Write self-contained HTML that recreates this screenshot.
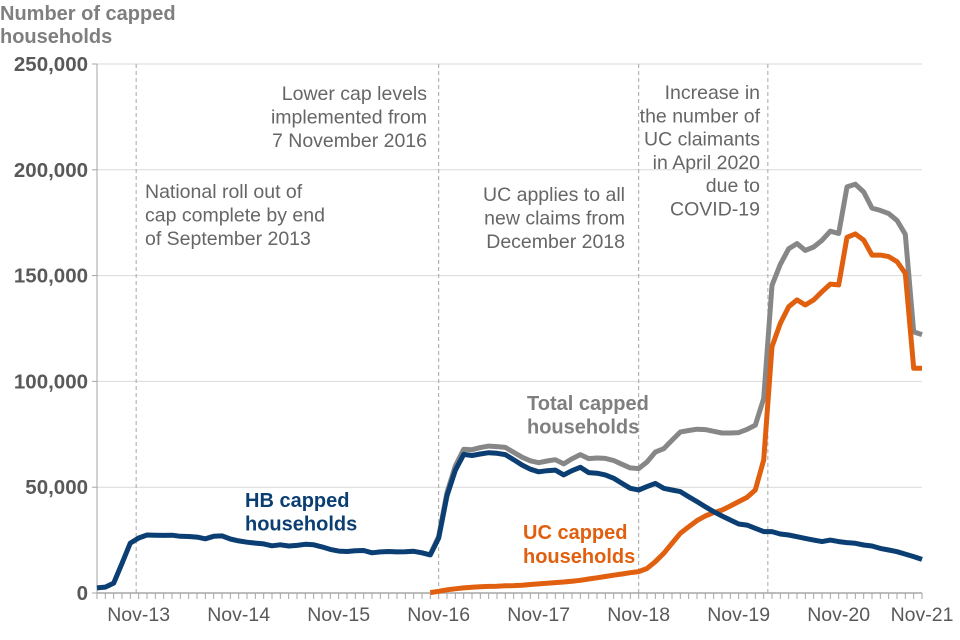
<!DOCTYPE html>
<html><head><meta charset="utf-8">
<style>
html,body{margin:0;padding:0;background:#fff;}
svg{display:block;font-family:"Liberation Sans",Arial,sans-serif;}
</style></head>
<body>
<svg id="chart" width="960" height="640" viewBox="0 0 960 640"></svg>
<script>
const hbValues = [2.4,2.8,4.7,14,23.6,26,27.4,27.3,27.2,27.3,26.8,26.7,26.4,25.6,26.8,27,25.5,24.6,24,23.6,23.2,22.3,22.8,22.2,22.5,23,22.8,21.8,20.6,19.8,19.6,20,20.1,19,19.4,19.6,19.4,19.5,19.7,19,18,
26,46,58,65.5,65,65.7,66.3,66,65.4,63,60.5,58.5,57.3,57.8,58.1,55.8,57.8,59.4,56.9,56.6,55.8,54.2,51.8,49.5,48.7,50.3,51.8,49.5,48.7,47.9,45.5,43.2,40.8,38.4,36.4,34.5,32.6,32.1,30.6,29,29,27.9,27.4,26.6,25.8,25,24.3,25,24.3,23.8,23.5,22.7,22.2,21.1,20.3,19.5,18.4,17.2,15.9];
const ucValues = [null,null,null,null,null,null,null,null,null,null,null,null,null,null,null,null,null,null,null,null,null,null,null,null,null,null,null,null,null,null,null,null,null,null,null,null,null,null,null,null,0.2,
0.8,1.5,2,2.4,2.7,3,3.1,3.2,3.4,3.5,3.7,4,4.3,4.6,4.9,5.2,5.6,6,6.6,7.2,7.8,8.4,9,9.6,10.1,11.6,14.8,18.7,23.5,28.2,31.3,34.2,36.4,38,39.2,41.1,43.2,45.2,48.7,62.9,116.4,127.4,135.3,138.5,136.1,138.5,142.4,146,145.6,168.1,169.7,166.8,159.7,159.7,159,156.6,151.1,106.2,106.2];
const yTicks = [0,50000,100000,150000,200000,250000];
const yTickLabels = ["0","50,000","100,000","150,000","200,000","250,000"];
const xLabels = ["Nov-13","Nov-14","Nov-15","Nov-16","Nov-17","Nov-18","Nov-19","Nov-20","Nov-21"];
const xLabelIdx = [5,17,29,41,53,65,77,89,99];
const eventIdx = [4.7,41,65,80.5];

const NS="http://www.w3.org/2000/svg";
const svg=document.getElementById('chart');
const X0=97,X1=922,Y0=593,Y1=64;
const N=hbValues.length;
function xs(i){return X0+i*(X1-X0)/(N-1);}
function ys(v){return Y0-v/250000*(Y0-Y1);}
function mk(tag,attrs,parent){const e=document.createElementNS(NS,tag);for(const k in attrs)e.setAttribute(k,attrs[k]);(parent||svg).appendChild(e);return e;}
function txt(s,x,y,attrs){const e=mk('text',Object.assign({x:x,y:y},attrs));e.textContent=s;return e;}

yTicks.forEach((t,i)=>{
  if(t>0){const g=mk('line',{x1:X0,x2:X1,y1:ys(t),y2:ys(t),stroke:'#d9d9d9','stroke-width':1});
  
  }
  const tk=mk('line',{x1:X0-5,x2:X0,y1:ys(t),y2:ys(t),stroke:'#a6a6a6','stroke-width':1});
  
  
  const l=txt(yTickLabels[i],88,ys(t)+7,{'text-anchor':'end','font-size':'20.5','font-weight':'bold',fill:'#595959'});
  
  
});
const ya=mk('line',{x1:X0,x2:X0,y1:Y1,y2:Y0,stroke:'#a6a6a6','stroke-width':1});


const xa=mk('line',{x1:X0,x2:X1,y1:Y0,y2:Y0,stroke:'#a6a6a6','stroke-width':1.5});


for(let i=0;i<N;i++){
  const t=mk('line',{x1:xs(i),x2:xs(i),y1:Y0,y2:Y0+6,stroke:'#a6a6a6','stroke-width':1});
  
  
}
xLabels.forEach((s,k)=>{
  const l=txt(s,xs(xLabelIdx[k]),621,{'text-anchor':'middle','font-size':'19.5',fill:'#595959'});
  
  
});
eventIdx.forEach(ix=>{
  const l=mk('line',{x1:xs(ix),x2:xs(ix),y1:Y1,y2:Y0,stroke:'#a6a6a6','stroke-width':1,'stroke-dasharray':'4,3'});
  
  
});
function path(vals){let d='';let pen=false;vals.forEach((v,i)=>{if(v==null){pen=false;return;}d+=(pen?'L':'M')+xs(i).toFixed(1)+','+ys(v*1000).toFixed(1);pen=true;});return d;}
const totalValues=hbValues.map((h,i)=> (i>=40 && ucValues[i]!=null)? h+ucValues[i] : null);
const pt=mk('path',{d:path(totalValues),fill:'none',stroke:'#878787','stroke-width':5,'stroke-linejoin':'round'});


const pu=mk('path',{d:path(ucValues),fill:'none',stroke:'#e0600f','stroke-width':5,'stroke-linejoin':'round'});


const ph=mk('path',{d:path(hbValues),fill:'none',stroke:'#0b3e72','stroke-width':5,'stroke-linejoin':'round'});



function block(lines,x,y0,lh,attrs,name){
  lines.forEach((s,i)=>{const t=txt(s,x,y0+i*lh,attrs);
  
  });
}
block(["Number of capped","households"],0,20,23,{'font-size':'20','font-weight':'bold',fill:'#7f7f7f'},'y-axis-title');
const ann={'font-size':'19.5',fill:'#666666'};
block(["National roll out of","cap complete by end","of September 2013"],145,198,23.5,ann,'annotation-national-rollout');
block(["Lower cap levels","implemented from","7 November 2016"],427,100,23.5,Object.assign({'text-anchor':'end'},ann),'annotation-lower-cap');
block(["UC applies to all","new claims from","December 2018"],625,201,23.5,Object.assign({'text-anchor':'end'},ann),'annotation-uc-applies');
block(["Increase in","the number of","UC claimants","in April 2020","due to","COVID-19"],760,99,23.3,Object.assign({'text-anchor':'end'},ann),'annotation-covid');
block(["HB capped","households"],245,507,23.5,{'font-size':'20','font-weight':'bold',fill:'#0b3e72'},'hb-series-label');
block(["Total capped","households"],527,410,23.5,{'font-size':'20','font-weight':'bold',fill:'#7f7f7f'},'total-series-label');
block(["UC capped","households"],523,539,24,{'font-size':'20','font-weight':'bold',fill:'#e0600f'},'uc-series-label');
</script>
</body></html>
